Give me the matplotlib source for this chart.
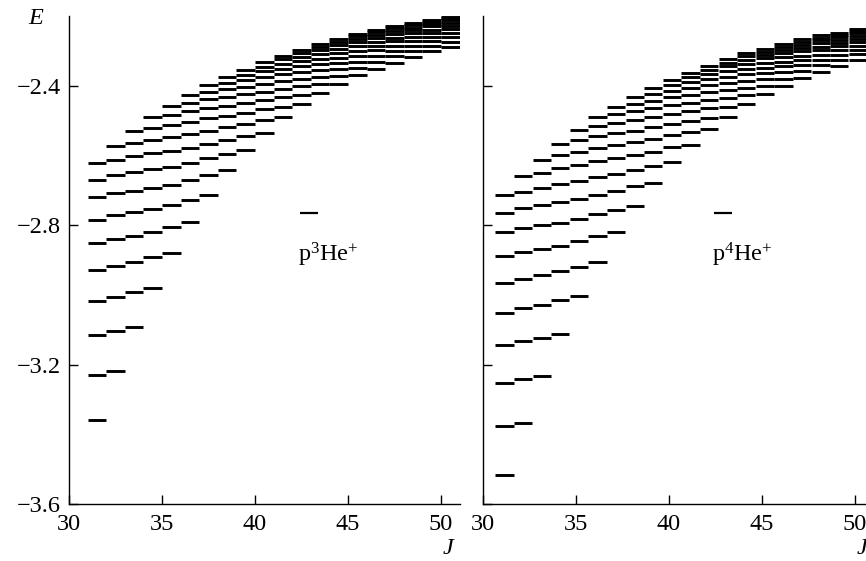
import numpy as np
import matplotlib
matplotlib.use('Agg')
import matplotlib.pyplot as plt

plt.rcParams['font.family'] = ['Liberation Serif', 'DejaVu Serif']
plt.rcParams['mathtext.fontset'] = 'custom'
plt.rcParams['mathtext.rm'] = 'Liberation Serif'
plt.rcParams['mathtext.it'] = 'Liberation Serif:italic'

# angular momentum J of the levels
J = list(range(31, 51))

# ---- p 3He+ : energy of level (J, v), one list per v = n - J - 1
p3_v0 = [-3.359, -3.217, -3.091, -2.979, -2.879, -2.791, -2.712, -2.642, -2.584, -2.534,
         -2.490, -2.453, -2.419, -2.394, -2.369, -2.350, -2.333, -2.316, -2.301, -2.288]
p3_v1 = [-3.228, -3.103, -2.992, -2.892, -2.805, -2.726, -2.656, -2.595, -2.543, -2.498,
         -2.459, -2.425, -2.394, -2.371, -2.348, -2.330, -2.315, -2.299, -2.285, -2.273]
p3_v2 = [-3.115, -3.004, -2.906, -2.818, -2.740, -2.671, -2.608, -2.554, -2.508, -2.467,
         -2.432, -2.401, -2.373, -2.352, -2.330, -2.313, -2.299, -2.284, -2.271, -2.259]
p3_v3 = [-3.016, -2.917, -2.830, -2.752, -2.683, -2.621, -2.566, -2.518, -2.477, -2.440,
         -2.408, -2.380, -2.354, -2.335, -2.314, -2.298, -2.285, -2.271, -2.259, -2.248]
p3_v4 = [-2.928, -2.840, -2.762, -2.693, -2.633, -2.578, -2.528, -2.486, -2.449, -2.416,
         -2.387, -2.361, -2.338, -2.319, -2.299, -2.285, -2.272, -2.260, -2.248, -2.237]
p3_v5 = [-2.850, -2.769, -2.700, -2.639, -2.586, -2.537, -2.493, -2.456, -2.424, -2.394,
         -2.367, -2.344, -2.322, -2.305, -2.286, -2.273, -2.261, -2.249, -2.238, -2.228]
p3_v6 = [-2.784, -2.707, -2.647, -2.593, -2.546, -2.503, -2.463, -2.431, -2.402, -2.374,
         -2.350, -2.329, -2.309, -2.293, -2.275, -2.262, -2.251, -2.240, -2.229, -2.219]
p3_v7 = [-2.719, -2.656, -2.602, -2.554, -2.513, -2.473, -2.438, -2.410, -2.384, -2.358,
         -2.336, -2.316, -2.298, -2.283, -2.266, -2.253, -2.243, -2.233, -2.222, -2.212]
p3_v8 = [-2.671, -2.612, -2.564, -2.520, -2.484, -2.449, -2.417, -2.392, -2.368, -2.345,
         -2.324, -2.306, -2.289, -2.274, -2.257, -2.246, -2.235, -2.226, -2.216, -2.206]
p3_v9 = [-2.622, -2.572, -2.529, -2.490, -2.458, -2.426, -2.397, -2.375, -2.354, -2.332,
         -2.313, -2.296, -2.280, -2.266, -2.250, -2.239, -2.229, -2.220, -2.210, -2.201]

# ---- p 4He+
p4_v0 = [-3.516, -3.367, -3.232, -3.112, -3.002, -2.904, -2.819, -2.743, -2.677, -2.618,
         -2.568, -2.523, -2.488, -2.453, -2.424, -2.400, -2.378, -2.359, -2.342, -2.325]
p4_v1 = [-3.375, -3.242, -3.122, -3.015, -2.918, -2.831, -2.755, -2.688, -2.629, -2.576,
         -2.532, -2.491, -2.459, -2.427, -2.401, -2.379, -2.358, -2.341, -2.325, -2.309]
p4_v2 = [-3.252, -3.133, -3.027, -2.932, -2.845, -2.767, -2.700, -2.641, -2.588, -2.540,
         -2.500, -2.463, -2.434, -2.405, -2.381, -2.360, -2.341, -2.325, -2.311, -2.296]
p4_v3 = [-3.142, -3.038, -2.943, -2.858, -2.781, -2.712, -2.652, -2.599, -2.551, -2.509,
         -2.472, -2.439, -2.411, -2.385, -2.364, -2.344, -2.326, -2.311, -2.298, -2.284]
p4_v4 = [-3.050, -2.953, -2.869, -2.792, -2.724, -2.662, -2.608, -2.562, -2.519, -2.481,
         -2.448, -2.417, -2.392, -2.367, -2.348, -2.330, -2.313, -2.298, -2.286, -2.274]
p4_v5 = [-2.964, -2.875, -2.800, -2.732, -2.672, -2.616, -2.569, -2.528, -2.489, -2.455,
         -2.425, -2.397, -2.373, -2.351, -2.334, -2.317, -2.300, -2.287, -2.276, -2.264]
p4_v6 = [-2.889, -2.808, -2.741, -2.680, -2.627, -2.577, -2.535, -2.498, -2.464, -2.432,
         -2.405, -2.380, -2.358, -2.337, -2.321, -2.305, -2.290, -2.277, -2.267, -2.256]
p4_v7 = [-2.820, -2.751, -2.692, -2.636, -2.589, -2.544, -2.506, -2.473, -2.442, -2.414,
         -2.389, -2.366, -2.344, -2.325, -2.311, -2.296, -2.281, -2.269, -2.259, -2.249]
p4_v8 = [-2.765, -2.703, -2.650, -2.599, -2.556, -2.516, -2.481, -2.452, -2.424, -2.398,
         -2.375, -2.353, -2.333, -2.315, -2.302, -2.287, -2.273, -2.261, -2.253, -2.243]
p4_v9 = [-2.713, -2.659, -2.611, -2.565, -2.527, -2.490, -2.459, -2.433, -2.407, -2.383,
         -2.362, -2.342, -2.323, -2.306, -2.294, -2.280, -2.266, -2.255, -2.247, -2.237]

p3_rows = [p3_v0, p3_v1, p3_v2, p3_v3, p3_v4, p3_v5, p3_v6, p3_v7, p3_v8, p3_v9]
p4_rows = [p4_v0, p4_v1, p4_v2, p4_v3, p4_v4, p4_v5, p4_v6, p4_v7, p4_v8, p4_v9]

# single dash next to the label in each panel
tag_J = 42.4
tag_E = -2.763

x_ticks = [30, 35, 40, 45, 50]
y_ticks = [-3.6, -3.2, -2.8, -2.4]
panel_names = [r'p$^{3}$He$^{+}$', r'p$^{4}$He$^{+}$']

FS = 17.5

fig = plt.figure(figsize=(8.66, 5.61), dpi=100)
ax1 = fig.add_axes([0.0797, 0.1011, 0.4510, 0.8699])
ax2 = fig.add_axes([0.5577, 0.1011, 0.4510, 0.8699])


def draw_levels(ax, rows, x0, w):
    jj = np.array(J, dtype=float) + x0
    for row in rows:
        ax.hlines(row, jj, jj + w, colors='black', linewidth=2.1)
    ax.hlines(tag_E, tag_J, tag_J + 1.0, colors='black', linewidth=1.6)


def setup_axis(ax, name, show_ylabels):
    ax.set_xlim(30, 51)
    ax.set_ylim(-3.6, -2.2)
    ax.spines['top'].set_visible(False)
    ax.spines['right'].set_visible(False)
    ax.spines['left'].set_linewidth(1.0)
    ax.spines['bottom'].set_linewidth(1.0)
    ax.set_xticks(x_ticks)
    ax.set_yticks(y_ticks)
    ax.tick_params(axis='both', direction='in', length=6.5, width=1.0,
                   labelsize=FS)
    ax.tick_params(axis='x', pad=7)
    ax.tick_params(axis='y', pad=6, labelleft=show_ylabels)
    ax.text(42.3, -2.903, name, fontsize=FS, ha='left', va='baseline')


draw_levels(ax1, p3_rows, 0.0, 1.0)
draw_levels(ax2, p4_rows, -0.33, 0.98)
setup_axis(ax1, panel_names[0], True)
setup_axis(ax2, panel_names[1], False)

# axis names
fig.text(36 / 866, 1 - 19 / 561, 'E', fontsize=FS, style='italic',
         ha='center', va='center')
fig.text(448 / 866, 1 - 549 / 561, 'J', fontsize=FS, style='italic',
         ha='center', va='center')
fig.text(862 / 866, 1 - 549 / 561, 'J', fontsize=FS, style='italic',
         ha='center', va='center')

fig.savefig('out.png', dpi=100)
